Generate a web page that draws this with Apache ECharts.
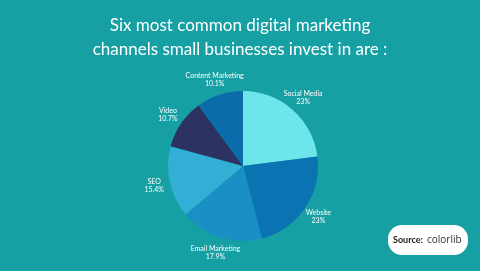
<!DOCTYPE html>
<html><head><meta charset="utf-8">
<script src="https://cdn.jsdelivr.net/npm/echarts@6/dist/echarts.min.js"></script>
<style>html,body{margin:0;padding:0;background:#16a0a4;}#c{width:480px;height:271px;}</style>
</head><body><div id="c"></div>
<script>
const titleLines = ['Six most common digital marketing', 'channels small businesses invest in are :'];
const categories = ['Social Media', 'Website', 'Email Marketing', 'SEO', 'Video', 'Content Marketing'];
const shares = [23, 23, 17.9, 15.4, 10.7, 10.1];
const shareLabels = ['23%', '23%', '17.9%', '15.4%', '10.7%', '10.1%'];
const colors = ['#6ce6ea', '#0a73b1', '#1a8fc5', '#31afd5', '#2c3363', '#0b6cab'];
const sourceText = 'Source:';
const sourceName = 'colorlib';

const chart = echarts.init(document.getElementById('c'));
const data = categories.map((n, i) => ({ name: n, value: shares[i], pct: shareLabels[i] }));
chart.setOption({
  backgroundColor: '#16a0a4',
  animation: false,
  title: {
    text: titleLines.join('\n'),
    left: 'center', top: 9,
    textStyle: { color: '#ffffff', fontFamily: 'Lato', fontWeight: 'normal', fontSize: 17, lineHeight: 24 }
  },
  series: [
    {
      type: 'pie', center: [243, 166], radius: [0, 75], startAngle: 90, clockwise: true,
      silent: true,
      data: data.map((d, i) => ({ name: d.name, value: d.value, itemStyle: { color: colors[i] } })),
      label: { show: false }, labelLine: { show: false }
    },
    {
      type: 'pie', center: [243, 166], radius: [76, 100], startAngle: 90, clockwise: true,
      silent: true,
      data: data.map(d => ({ name: d.name, value: d.value, pct: d.pct, itemStyle: { color: 'rgba(0,0,0,0)' } })),
      label: {
        show: true, position: 'inside',
        formatter: p => p.name + '\n' + shareLabels[p.dataIndex],
        color: '#ffffff', fontFamily: 'Lato', fontSize: 7, lineHeight: 8
      },
      labelLine: { show: false }
    }
  ],
  graphic: [
    { type: 'rect', shape: { x: 388, y: 225, width: 80, height: 30, r: 14 }, style: { fill: '#ffffff' } },
    { type: 'text', x: 393, y: 240, style: { text: sourceText, fill: '#1a1a1a', font: 'bold 9px Lato', verticalAlign: 'middle' } },
    { type: 'text', x: 427, y: 240, style: { text: sourceName, fill: '#333333', font: '10px "Open Sans"', verticalAlign: 'middle' } }
  ]
});
</script></body></html>
